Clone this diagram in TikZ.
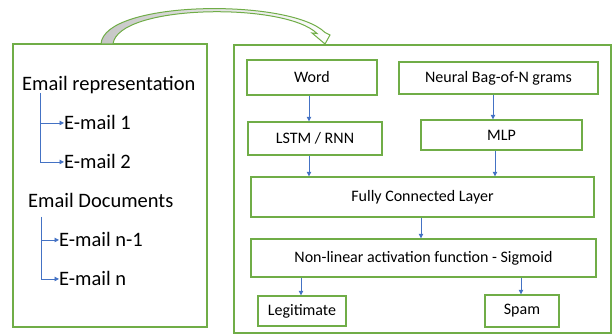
\documentclass[tikz,border=0pt]{standalone}
\usepackage{fontspec}
\setmainfont{Carlito}
\usetikzlibrary{arrows.meta}
\definecolor{ogreen}{RGB}{112,173,71}
\definecolor{oblue}{RGB}{68,114,196}
\begin{document}
\begin{tikzpicture}[x=1pt,y=-1pt,
  gbox/.style={draw=ogreen,line width=1.4pt,inner sep=0pt,align=center,font=\fontsize{16}{19}\selectfont},
  frame/.style={draw=ogreen,line width=1.4pt},
  barrow/.style={draw=oblue,line width=0.8pt,-{Triangle[length=4.5pt,width=4.5pt]}},
  ltext/.style={inner sep=0pt,anchor=base west,font=\fontsize{20.5}{24}\selectfont}]
\useasboundingbox (0,0) rectangle (613,336);
% frames
\node[frame,minimum width=194pt,minimum height=283pt,inner sep=0pt] (left) at (110,185.5) {};
\node[frame,minimum width=377pt,minimum height=288pt,inner sep=0pt] (right) at (422.5,189) {};
% curved block arrow
\shade[draw=ogreen,line width=1pt,left color=gray!45,middle color=white,right color=white]
  (101,44) .. controls (104,0) and (290,-2) .. (325,32.5)
  -- (330,35) -- (325,44) -- (312,33) -- (317,33.5)
  .. controls (285,2) and (118,4) .. (113,44) -- cycle;
% left text
\node[ltext] (rep) at (22,91) {Email representation};
\node[ltext] (m1) at (64,130) {E-mail 1};
\node[ltext] (m2) at (64,169) {E-mail 2};
\node[ltext] (docs) at (28,208) {Email Documents};
\node[ltext] (mn1) at (59,247) {E-mail n-1};
\node[ltext] (mn) at (59,286) {E-mail n};
\coordinate (t1) at (40,93);
\coordinate (t2) at (41,217);
\draw[barrow] (t1) |- (m1.west);
\draw[barrow] (t1) |- (m2.west);
\draw[barrow] (t2) |- (mn1.west);
\draw[barrow] (t2) |- (mn.west);
% right boxes
\node[gbox,minimum width=130pt,minimum height=35pt] (word) at (312,77.5) {Word};
\node[gbox,minimum width=199pt,minimum height=32pt] (bag) at (498.5,78) {Neural Bag-of-N grams};
\node[gbox,minimum width=134pt,minimum height=33pt] (lstm) at (315,138.5) {LSTM / RNN};
\node[gbox,minimum width=161pt,minimum height=30pt] (mlp) at (501.5,135) {MLP};
\node[gbox,minimum width=343pt,minimum height=40pt] (fc) at (422.5,197) {Fully Connected Layer};
\node[gbox,minimum width=345pt,minimum height=38pt] (sig) at (423.5,258) {Non-linear activation function - Sigmoid};
\node[gbox,minimum width=88pt,minimum height=30pt] (leg) at (302,311) {Legitimate};
\node[gbox,minimum width=74pt,minimum height=32pt] (spam) at (522,311) {Spam};
% arrows
\draw[barrow] (word.south -| 309,0) -- (lstm.north -| 309,0);
\draw[barrow] (bag.south -| 493,0) -- (mlp.north -| 493,0);
\draw[barrow] (lstm.south -| 309,0) -- (fc.north -| 309,0);
\draw[barrow] (mlp.south -| 495,0) -- (fc.north -| 495,0);
\draw[barrow] (fc.south -| 421,0) -- (sig.north -| 421,0);
\draw[barrow] (sig.south -| 301,0) -- (leg.north -| 301,0);
\draw[barrow] (sig.south -| 521,0) -- (spam.north -| 521,0);
\end{tikzpicture}
\end{document}
